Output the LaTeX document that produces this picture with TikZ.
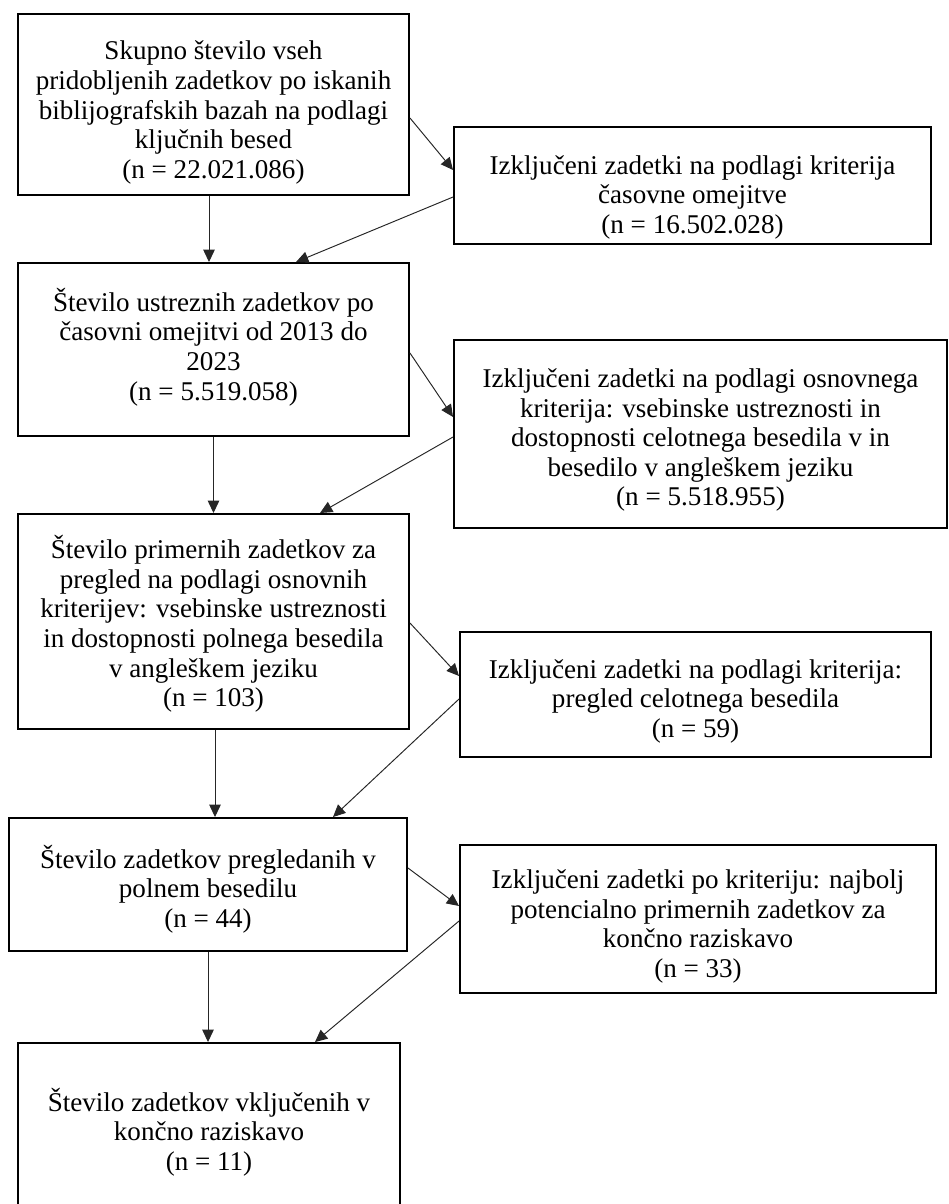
\documentclass[tikz,border=0pt]{standalone}
\usepackage{fontspec}
\setmainfont{Liberation Serif}
\usepackage{tikz}
\usetikzlibrary{calc,arrows.meta,positioning}

\begin{document}
\begin{tikzpicture}[
    box/.style={draw, line width=1.1pt, inner sep=0pt},
    txt/.style={align=center, inner sep=0pt, font=\fontsize{15.4}{16.8}\selectfont},
    arr/.style={-{Triangle[length=7pt,width=6.5pt]}, line width=0.55pt, black!85}
]

% Page size
\useasboundingbox (0,0) rectangle (18.96,-24.08);

% Left column (main flow)
\node[box, minimum width=7.82cm, minimum height=3.62cm] (b1) at (4.27,-2.09) {};
\node[txt] (b1t) at (4.27,-2.25) {
    Skupno število vseh\\
    pridobljenih zadetkov po iskanih\\
    biblijografskih bazah na podlagi\\
    ključnih besed\\
    (n = 22.021.086)
};
\node[box, minimum width=7.82cm, minimum height=3.46cm] (b2) at (4.27,-6.99) {};
\node[txt] (b2t) at (4.27,-6.94) {
    Število ustreznih zadetkov po\\
    časovni omejitvi od 2013 do\\
    2023\\
    (n = 5.519.058)
};
\node[box, minimum width=7.82cm, minimum height=4.30cm] (b3) at (4.27,-12.43) {};
\node[txt] (b3t) at (4.27,-12.48) {
    Število primernih zadetkov za\\
    pregled na podlagi osnovnih\\
    kriterijev: vsebinske ustreznosti\\
    in dostopnosti polnega besedila\\
    v angleškem jeziku\\
    (n = 103)
};
\node[box, minimum width=7.96cm, minimum height=2.66cm] (b4) at (4.16,-17.69) {};
\node[txt] (b4t) at (4.16,-17.78) {
    Število zadetkov pregledanih v\\
    polnem besedilu\\
    (n = 44)
};
\node[box, minimum width=7.64cm, minimum height=3.50cm] (b5) at (4.18,-22.61) {};
\node[txt] (b5t) at (4.18,-22.64) {
    Število zadetkov vključenih v\\
    končno raziskavo\\
    (n = 11)
};

% Right column (excluded)
\node[box, minimum width=9.54cm, minimum height=2.34cm] (r1) at (13.85,-3.71) {};
\node[txt] (r1t) at (13.85,-3.94) {
    Izključeni zadetki na podlagi kriterija\\
    časovne omejitve\\
    (n = 16.502.028)
};
\node[box, minimum width=9.86cm, minimum height=3.76cm] (r2) at (14.01,-8.68) {};
\node[txt] (r2t) at (14.01,-8.80) {
    Izključeni zadetki na podlagi osnovnega\\
    kriterija: vsebinske ustreznosti in\\
    dostopnosti celotnega besedila v in\\
    besedilo v angleškem jeziku\\
    (n = 5.518.955)
};
\node[box, minimum width=9.42cm, minimum height=2.50cm] (r3) at (13.91,-13.89) {};
\node[txt] (r3t) at (13.91,-14.02) {
    Izključeni zadetki na podlagi kriterija:\\
    pregled celotnega besedila\\
    (n = 59)
};
\node[box, minimum width=9.52cm, minimum height=2.96cm] (r4) at (13.96,-18.38) {};
\node[txt] (r4t) at (13.96,-18.53) {
    Izključeni zadetki po kriteriju: najbolj\\
    potencialno primernih zadetkov za\\
    končno raziskavo\\
    (n = 33)
};

% Vertical arrows
\draw[arr] ([xshift=-0.09cm]b1.south) -- ([xshift=-0.09cm]b1.south |- b2.north);
\draw[arr] (b2.south) -- (b2.south |- b3.north);
\draw[arr] ([xshift=0.03cm]b3.south) -- ([xshift=0.03cm]b3.south |- b4.north);
\draw[arr] (b4.south) -- (b4.south |- b5.north);

% Out to the excluded boxes and back
\draw[arr] ([yshift=-0.27cm]b1.east) -- ([yshift=0.31cm]r1.west);
\draw[arr] ([yshift=-0.23cm]r1.west) -- ([xshift=1.65cm]b2.north);
\draw[arr] ([yshift=-0.07cm]b2.east) -- ([yshift=0.34cm]r2.west);
\draw[arr] ([yshift=-0.06cm]r2.west) -- ([xshift=2.13cm]b3.north);
\draw[arr] ([yshift=-0.03cm]b3.east) -- ([yshift=0.37cm]r3.west);
\draw[arr] ([yshift=-0.09cm]r3.west) -- ([xshift=2.50cm]b4.north);
\draw[arr] ([yshift=0.33cm]b4.east) -- ([yshift=0.26cm]r4.west);
\draw[arr] ([yshift=-0.04cm]r4.west) -- ([xshift=2.12cm]b5.north);

\end{tikzpicture}
\end{document}
